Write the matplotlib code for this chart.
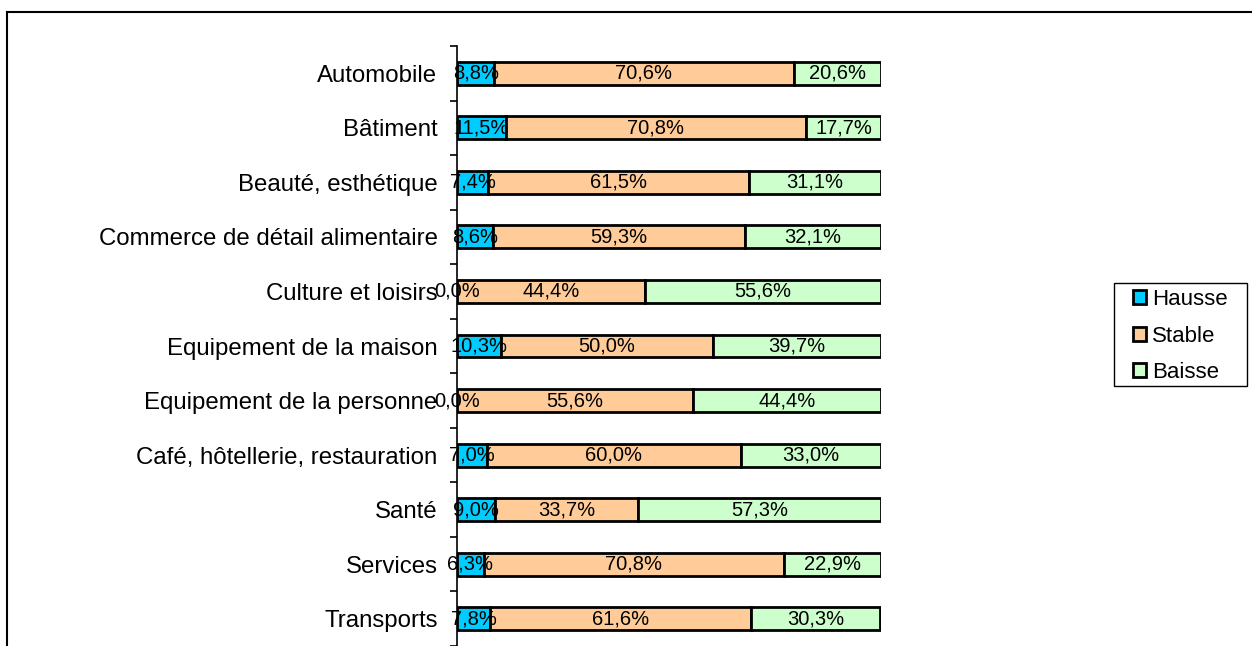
import matplotlib.pyplot as plt
import numpy as np
from matplotlib.lines import Line2D
from matplotlib.patches import Rectangle

plt.rcParams['font.family'] = ['Liberation Sans', 'DejaVu Sans']

categories = ['Automobile', 'Bâtiment', 'Beauté, esthétique',
              'Commerce de détail alimentaire', 'Culture et loisirs',
              'Equipement de la maison', 'Equipement de la personne',
              'Café, hôtellerie, restauration', 'Santé', 'Services',
              'Transports']
hausse = [8.8, 11.5, 7.4, 8.6, 0.0, 10.3, 0.0, 7.0, 9.0, 6.3, 7.8]
stable = [70.6, 70.8, 61.5, 59.3, 44.4, 50.0, 55.6, 60.0, 33.7, 70.8, 61.6]
baisse = [20.6, 17.7, 31.1, 32.1, 55.6, 39.7, 44.4, 33.0, 57.3, 22.9, 30.3]

series = [('Hausse', hausse, '#00CCFF'),
          ('Stable', stable, '#FFCC99'),
          ('Baisse', baisse, '#CCFFCC')]

W, H = 1252, 646
fig = plt.figure(figsize=(W / 100, H / 100), dpi=100)
ax = fig.add_axes([457 / W, 0, (881 - 457) / W, 600 / H])

y = np.arange(len(categories))
left = np.zeros(len(categories))
bars = []
for name, vals, col in series:
    ax.barh(y, vals, left=left, height=0.42, color=col,
            edgecolor='black', linewidth=2, label=name)
    bars.append((vals, left.copy()))
    left = left + np.array(vals)

# value labels, centred in each segment
for vals, start in bars:
    for i, v in enumerate(vals):
        txt = f'{v:.1f}%'.replace('.', ',')
        ax.text(start[i] + v / 2, y[i], txt, ha='center', va='center',
                fontsize=14.5, color='black')

ax.set_xlim(0, 100)
ax.set_ylim(len(categories) - 0.5, -0.5)
ax.set_yticks(y)
ax.set_yticklabels(categories, fontsize=17.3)
ax.set_yticks(np.arange(len(categories) + 1) - 0.5, minor=True)
ax.tick_params(axis='y', which='major', length=0, pad=14)
ax.tick_params(axis='y', which='minor', length=5, width=1.2, direction='out')
ax.xaxis.set_visible(False)
for s in ['top', 'right', 'bottom']:
    ax.spines[s].set_visible(False)
ax.spines['left'].set_linewidth(1.2)

# legend: content without frame, box drawn separately
fig.legend(loc='upper left', bbox_to_anchor=(1133 / W, 1 - 289 / H),
           fontsize=16, frameon=False,
           handlelength=0.6, handleheight=0.6, handletextpad=0.25,
           borderaxespad=0, labelspacing=0.7, borderpad=0)
fig.add_artist(Rectangle((1114 / W, 1 - 386 / H), (1247 - 1114) / W, (386 - 283) / H,
                         transform=fig.transFigure, fill=False,
                         edgecolor='black', lw=1))

# outer chart frame (cut by the image edges)
fig.add_artist(Line2D([7 / W, 7 / W], [1 - 12 / H, 0], transform=fig.transFigure,
                      color='black', lw=1.5))
fig.add_artist(Line2D([7 / W, 1], [1 - 12 / H, 1 - 12 / H], transform=fig.transFigure,
                      color='black', lw=1.5))

fig.savefig('out.png', dpi=100)
